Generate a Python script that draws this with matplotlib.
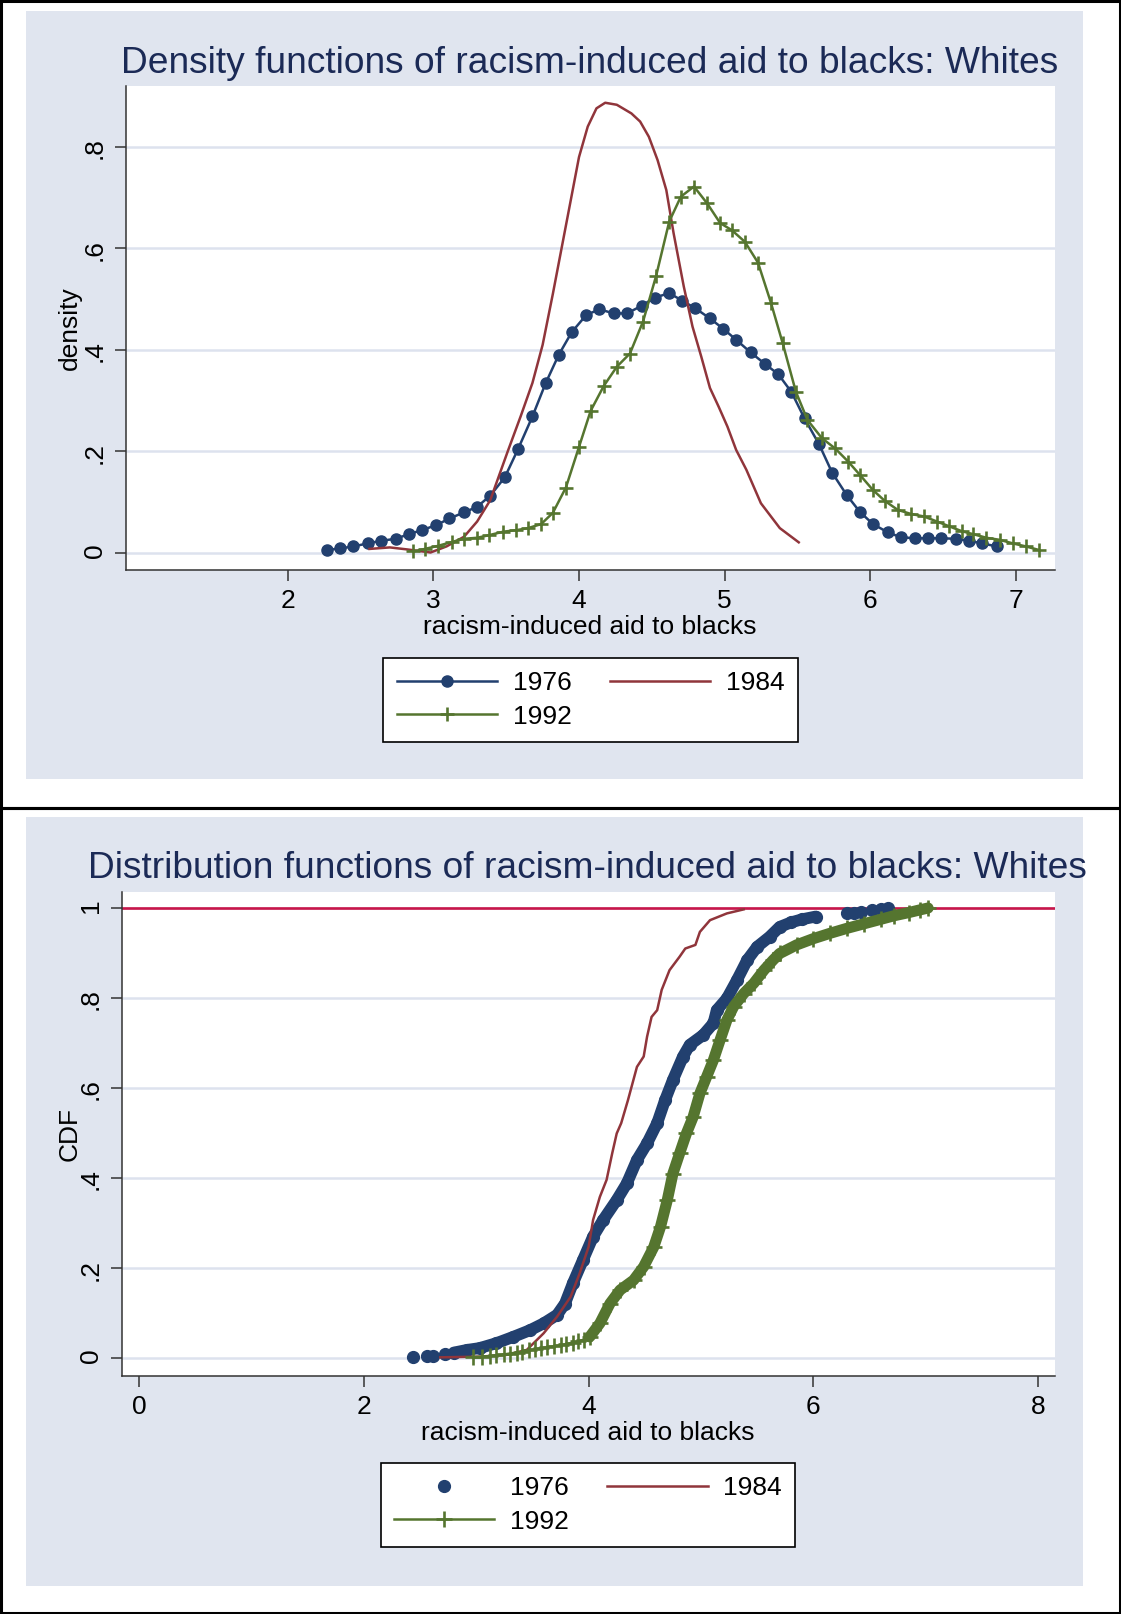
import matplotlib
matplotlib.use('Agg')
import matplotlib.pyplot as plt
from matplotlib.patches import Rectangle
from matplotlib.lines import Line2D
import numpy as np

plt.rcParams['font.family'] = ['Liberation Sans', 'DejaVu Sans']

# kernel density estimates (top panel)
dens76_x = [2.27, 2.36, 2.45, 2.55, 2.64, 2.74, 2.83, 2.92, 3.02, 3.11,
            3.21, 3.30, 3.39, 3.49, 3.58, 3.68, 3.77, 3.86, 3.95, 4.05,
            4.14, 4.24, 4.33, 4.43, 4.52, 4.62, 4.71, 4.80, 4.90, 4.99,
            5.08, 5.18, 5.28, 5.37, 5.46, 5.55, 5.65, 5.74, 5.84, 5.93,
            6.02, 6.12, 6.21, 6.31, 6.40, 6.49, 6.59, 6.68, 6.77, 6.87]
dens76_y = [0.006, 0.009, 0.013, 0.019, 0.024, 0.028, 0.037, 0.045, 0.055, 0.068,
            0.080, 0.091, 0.113, 0.149, 0.204, 0.269, 0.334, 0.390, 0.435, 0.469,
            0.480, 0.472, 0.472, 0.487, 0.503, 0.512, 0.497, 0.482, 0.462, 0.442,
            0.420, 0.395, 0.372, 0.352, 0.317, 0.265, 0.214, 0.158, 0.114, 0.081,
            0.057, 0.041, 0.031, 0.029, 0.029, 0.029, 0.028, 0.024, 0.019, 0.013]

dens84_x = [2.56, 2.70, 2.82, 2.98, 3.09, 3.21, 3.30, 3.39, 3.51, 3.60,
            3.68, 3.75, 3.82, 3.88, 3.94, 4.00, 4.06, 4.12, 4.18, 4.26,
            4.36, 4.42, 4.48, 4.54, 4.60, 4.65, 4.72, 4.78, 4.84, 4.90,
            4.96, 5.02, 5.08, 5.15, 5.25, 5.38, 5.51]
dens84_y = [0.008, 0.011, 0.007, 0.001, 0.013, 0.032, 0.062, 0.104, 0.200, 0.270,
            0.335, 0.410, 0.510, 0.600, 0.690, 0.780, 0.840, 0.876, 0.887, 0.883,
            0.866, 0.850, 0.820, 0.774, 0.715, 0.630, 0.525, 0.446, 0.387, 0.325,
            0.288, 0.249, 0.203, 0.164, 0.098, 0.049, 0.021]

dens92_x = [2.86, 2.94, 3.03, 3.13, 3.21, 3.30, 3.38, 3.48, 3.57, 3.65,
            3.74, 3.82, 3.91, 4.00, 4.08, 4.17, 4.26, 4.35, 4.44, 4.53,
            4.62, 4.70, 4.79, 4.88, 4.97, 5.05, 5.14, 5.23, 5.32, 5.40,
            5.49, 5.57, 5.67, 5.76, 5.85, 5.93, 6.02, 6.10, 6.19, 6.28,
            6.37, 6.46, 6.54, 6.63, 6.71, 6.80, 6.89, 6.98, 7.07, 7.16]
dens92_y = [0.003, 0.008, 0.014, 0.022, 0.028, 0.030, 0.035, 0.042, 0.045, 0.049,
            0.057, 0.079, 0.129, 0.209, 0.280, 0.329, 0.367, 0.393, 0.456, 0.546,
            0.653, 0.702, 0.722, 0.689, 0.650, 0.636, 0.613, 0.572, 0.492, 0.413,
            0.318, 0.262, 0.226, 0.206, 0.180, 0.154, 0.124, 0.103, 0.085, 0.077,
            0.072, 0.062, 0.053, 0.043, 0.037, 0.030, 0.026, 0.019, 0.013, 0.006]

# empirical distribution functions (bottom panel)
cdf76_x = [2.44, 2.56, 2.62, 2.72, 2.80, 2.92, 3.03, 3.18, 3.33, 3.48,
           3.60, 3.72, 3.79, 3.86, 3.95, 4.04, 4.13, 4.25, 4.34, 4.43,
           4.52, 4.61, 4.68, 4.75, 4.84, 4.90, 5.02, 5.11, 5.14, 5.23,
           5.32, 5.41, 5.50, 5.61, 5.70, 5.80, 5.90, 6.02,
           6.30, 6.36, 6.42, 6.52, 6.60, 6.66]
cdf76_y = [0.003, 0.004, 0.004, 0.008, 0.012, 0.018, 0.022, 0.033, 0.047, 0.062,
           0.077, 0.096, 0.121, 0.166, 0.218, 0.270, 0.307, 0.351, 0.388, 0.440,
           0.477, 0.522, 0.573, 0.618, 0.670, 0.696, 0.718, 0.744, 0.773, 0.799,
           0.840, 0.884, 0.914, 0.936, 0.958, 0.968, 0.975, 0.981,
           0.988, 0.990, 0.992, 0.995, 0.998, 1.0]

cdf84_x = [2.68, 3.03, 3.27, 3.45, 3.60, 3.72, 3.84, 3.92, 4.00, 4.04,
           4.10, 4.16, 4.21, 4.25, 4.29, 4.35, 4.43, 4.49, 4.52, 4.56,
           4.61, 4.65, 4.72, 4.81, 4.86, 4.95, 4.99, 5.08, 5.23, 5.38]
cdf84_y = [0.0015, 0.003, 0.007, 0.018, 0.055, 0.092, 0.136, 0.188, 0.247, 0.307,
           0.358, 0.396, 0.455, 0.499, 0.522, 0.573, 0.647, 0.670, 0.714, 0.758,
           0.773, 0.818, 0.862, 0.892, 0.910, 0.918, 0.947, 0.973, 0.988, 0.997]

cdf92_x = [2.97, 3.05, 3.12, 3.18, 3.25, 3.30, 3.36, 3.41, 3.47, 3.52,
           3.58, 3.63, 3.69, 3.75, 3.80, 3.86, 3.91, 3.96, 4.01, 4.10,
           4.19, 4.28, 4.40, 4.49, 4.58, 4.64, 4.70, 4.75, 4.81, 4.87,
           4.93, 4.99, 5.05, 5.11, 5.17, 5.23, 5.29, 5.38, 5.47, 5.56,
           5.64, 5.70, 5.85, 6.00, 6.15, 6.30, 6.45, 6.60, 6.72, 6.85,
           6.95, 7.02]
cdf92_y = [0.002, 0.003, 0.004, 0.006, 0.008, 0.010, 0.012, 0.014, 0.017, 0.019,
           0.022, 0.024, 0.026, 0.028, 0.031, 0.034, 0.037, 0.041, 0.047, 0.077,
           0.121, 0.151, 0.173, 0.203, 0.247, 0.292, 0.351, 0.410, 0.455, 0.499,
           0.536, 0.588, 0.625, 0.662, 0.707, 0.751, 0.781, 0.810, 0.833, 0.862,
           0.884, 0.899, 0.918, 0.932, 0.944, 0.955, 0.965, 0.975, 0.983, 0.990,
           0.996, 1.0]

years = ['1976', '1984', '1992']
dens_xticks = [2, 3, 4, 5, 6, 7]
dens_yticks = [0, 0.2, 0.4, 0.6, 0.8]
dens_ylabels = ['0', '.2', '.4', '.6', '.8']
cdf_xticks = [0, 2, 4, 6, 8]
cdf_yticks = [0, 0.2, 0.4, 0.6, 0.8, 1.0]
cdf_ylabels = ['0', '.2', '.4', '.6', '.8', '1']

NAVY = '#22406f'
MAROON = '#90353b'
GREEN = '#55752f'
CRIMSON = '#c8164a'
BG = '#e0e5ef'
GRID = '#dde2ee'
TITLE = '#1b2a56'
AXC = '#333333'
FS = 19

W, H = 1121, 1614


def fx(px):
    return px / W


def fy(py):
    return 1 - py / H


def add_axes(left, top, right, bottom):
    return fig.add_axes([fx(left), fy(bottom), (right - left) / W, (bottom - top) / H])


def style_axes(ax):
    ax.set_facecolor('white')
    for s in ('top', 'right'):
        ax.spines[s].set_visible(False)
    for s in ('left', 'bottom'):
        ax.spines[s].set_color(AXC)
        ax.spines[s].set_linewidth(1.1)
    ax.tick_params(length=8, width=1.1, color=AXC, labelsize=FS, pad=6)
    ax.tick_params(axis='y', labelrotation=90)
    ax.yaxis.grid(True, color=GRID, lw=1.8)
    ax.set_axisbelow(True)


def make_legend(ax, handles, cx, cy):
    leg = ax.legend(handles=handles, loc='center', bbox_to_anchor=(fx(cx), fy(cy)),
                    bbox_transform=fig.transFigure, ncol=2, fontsize=FS,
                    frameon=True, fancybox=False, edgecolor='black', framealpha=1,
                    handlelength=3.8, handletextpad=0.6, columnspacing=1.45,
                    borderpad=0.5, labelspacing=0.35, numpoints=1)
    leg.get_frame().set_linewidth(1.2)
    return leg


fig = plt.figure(figsize=(W / 100, H / 100), dpi=100)
fig.patch.set_facecolor('white')

# panel backgrounds and outer frames
for (x0, y0, x1, y1) in [(26, 11, 1083, 779), (26, 817, 1083, 1586)]:
    fig.patches.append(Rectangle((fx(x0), fy(y1)), (x1 - x0) / W, (y1 - y0) / H,
                                 transform=fig.transFigure, facecolor=BG,
                                 edgecolor='none', zorder=-5))
for (x0, y0, x1, y1) in [(1.5, 1.5, 1119.5, 808), (1.5, 808, 1119.5, 1612.5)]:
    fig.patches.append(Rectangle((fx(x0), fy(y1)), (x1 - x0) / W, (y1 - y0) / H,
                                 transform=fig.transFigure, facecolor='none',
                                 edgecolor='black', lw=2.2, zorder=5))

# ---- density panel ----
ax1 = add_axes(126, 86, 1055, 570)
style_axes(ax1)
l76, = ax1.plot(dens76_x, dens76_y, color=NAVY, lw=1.8, marker='o', ms=8, label=years[0])
l84, = ax1.plot(dens84_x, dens84_y, color=MAROON, lw=1.8, label=years[1])
l92, = ax1.plot(dens92_x, dens92_y, color=GREEN, lw=1.8, marker='+', ms=10.5, mew=1.9,
                label=years[2])
ax1.set_xlim(0.887, 7.271)
ax1.set_ylim(-0.0335, 0.920)
ax1.set_xticks(dens_xticks)
ax1.set_yticks(dens_yticks)
ax1.set_yticklabels(dens_ylabels)
make_legend(ax1, [l76, l92, l84], 590.5, 700)

fig.text(fx(589.5), fy(73), 'Density functions of racism-induced aid to blacks: Whites',
         ha='center', va='baseline', fontsize=26.7, color=TITLE)
fig.text(fx(590), fy(627), 'racism-induced aid to blacks', ha='center', va='center',
         fontsize=FS)
fig.text(fx(70), fy(328), 'density', rotation=90, ha='center', va='center', fontsize=FS)

# ---- distribution panel ----
ax2 = add_axes(122, 892, 1055, 1376)
style_axes(ax2)
ax2.axhline(1.0, color=CRIMSON, lw=1.9, zorder=1.5)

c76x, c76y = np.array(cdf76_x), np.array(cdf76_y)
band = (c76x >= 2.80) & (c76x <= 6.02)
ax2.plot(c76x[band], c76y[band], color=NAVY, lw=8.5, solid_capstyle='round',
         solid_joinstyle='round', zorder=2)
ax2.plot(c76x, c76y, ls='none', marker='o', ms=8.5, color=NAVY, zorder=2)

ax2.plot(cdf84_x, cdf84_y, color=MAROON, lw=1.8, zorder=3)

c92x, c92y = np.array(cdf92_x), np.array(cdf92_y)
band = c92x >= 4.01
ax2.plot(c92x[band], c92y[band], color=GREEN, lw=8, solid_capstyle='round',
         solid_joinstyle='round', zorder=4)
ax2.plot(c92x, c92y, color=GREEN, lw=1.8, marker='+', ms=11, mew=1.9, zorder=4)

ax2.set_xlim(-0.151, 8.149)
ax2.set_ylim(-0.04, 1.0356)
ax2.set_xticks(cdf_xticks)
ax2.set_yticks(cdf_yticks)
ax2.set_yticklabels(cdf_ylabels)

h76 = Line2D([], [], ls='none', marker='o', ms=8.5, color=NAVY, label=years[0])
h84 = Line2D([], [], color=MAROON, lw=1.8, label=years[1])
h92 = Line2D([], [], color=GREEN, lw=1.8, marker='+', ms=11, mew=1.9, label=years[2])
make_legend(ax2, [h76, h92, h84], 588, 1505)

fig.text(fx(587.5), fy(878), 'Distribution functions of racism-induced aid to blacks: Whites',
         ha='center', va='baseline', fontsize=26.7, color=TITLE)
fig.text(fx(588), fy(1433), 'racism-induced aid to blacks', ha='center', va='center',
         fontsize=FS)
fig.text(fx(70), fy(1134), 'CDF', rotation=90, ha='center', va='center', fontsize=FS)

fig.savefig('out.png', dpi=100, facecolor='white')
